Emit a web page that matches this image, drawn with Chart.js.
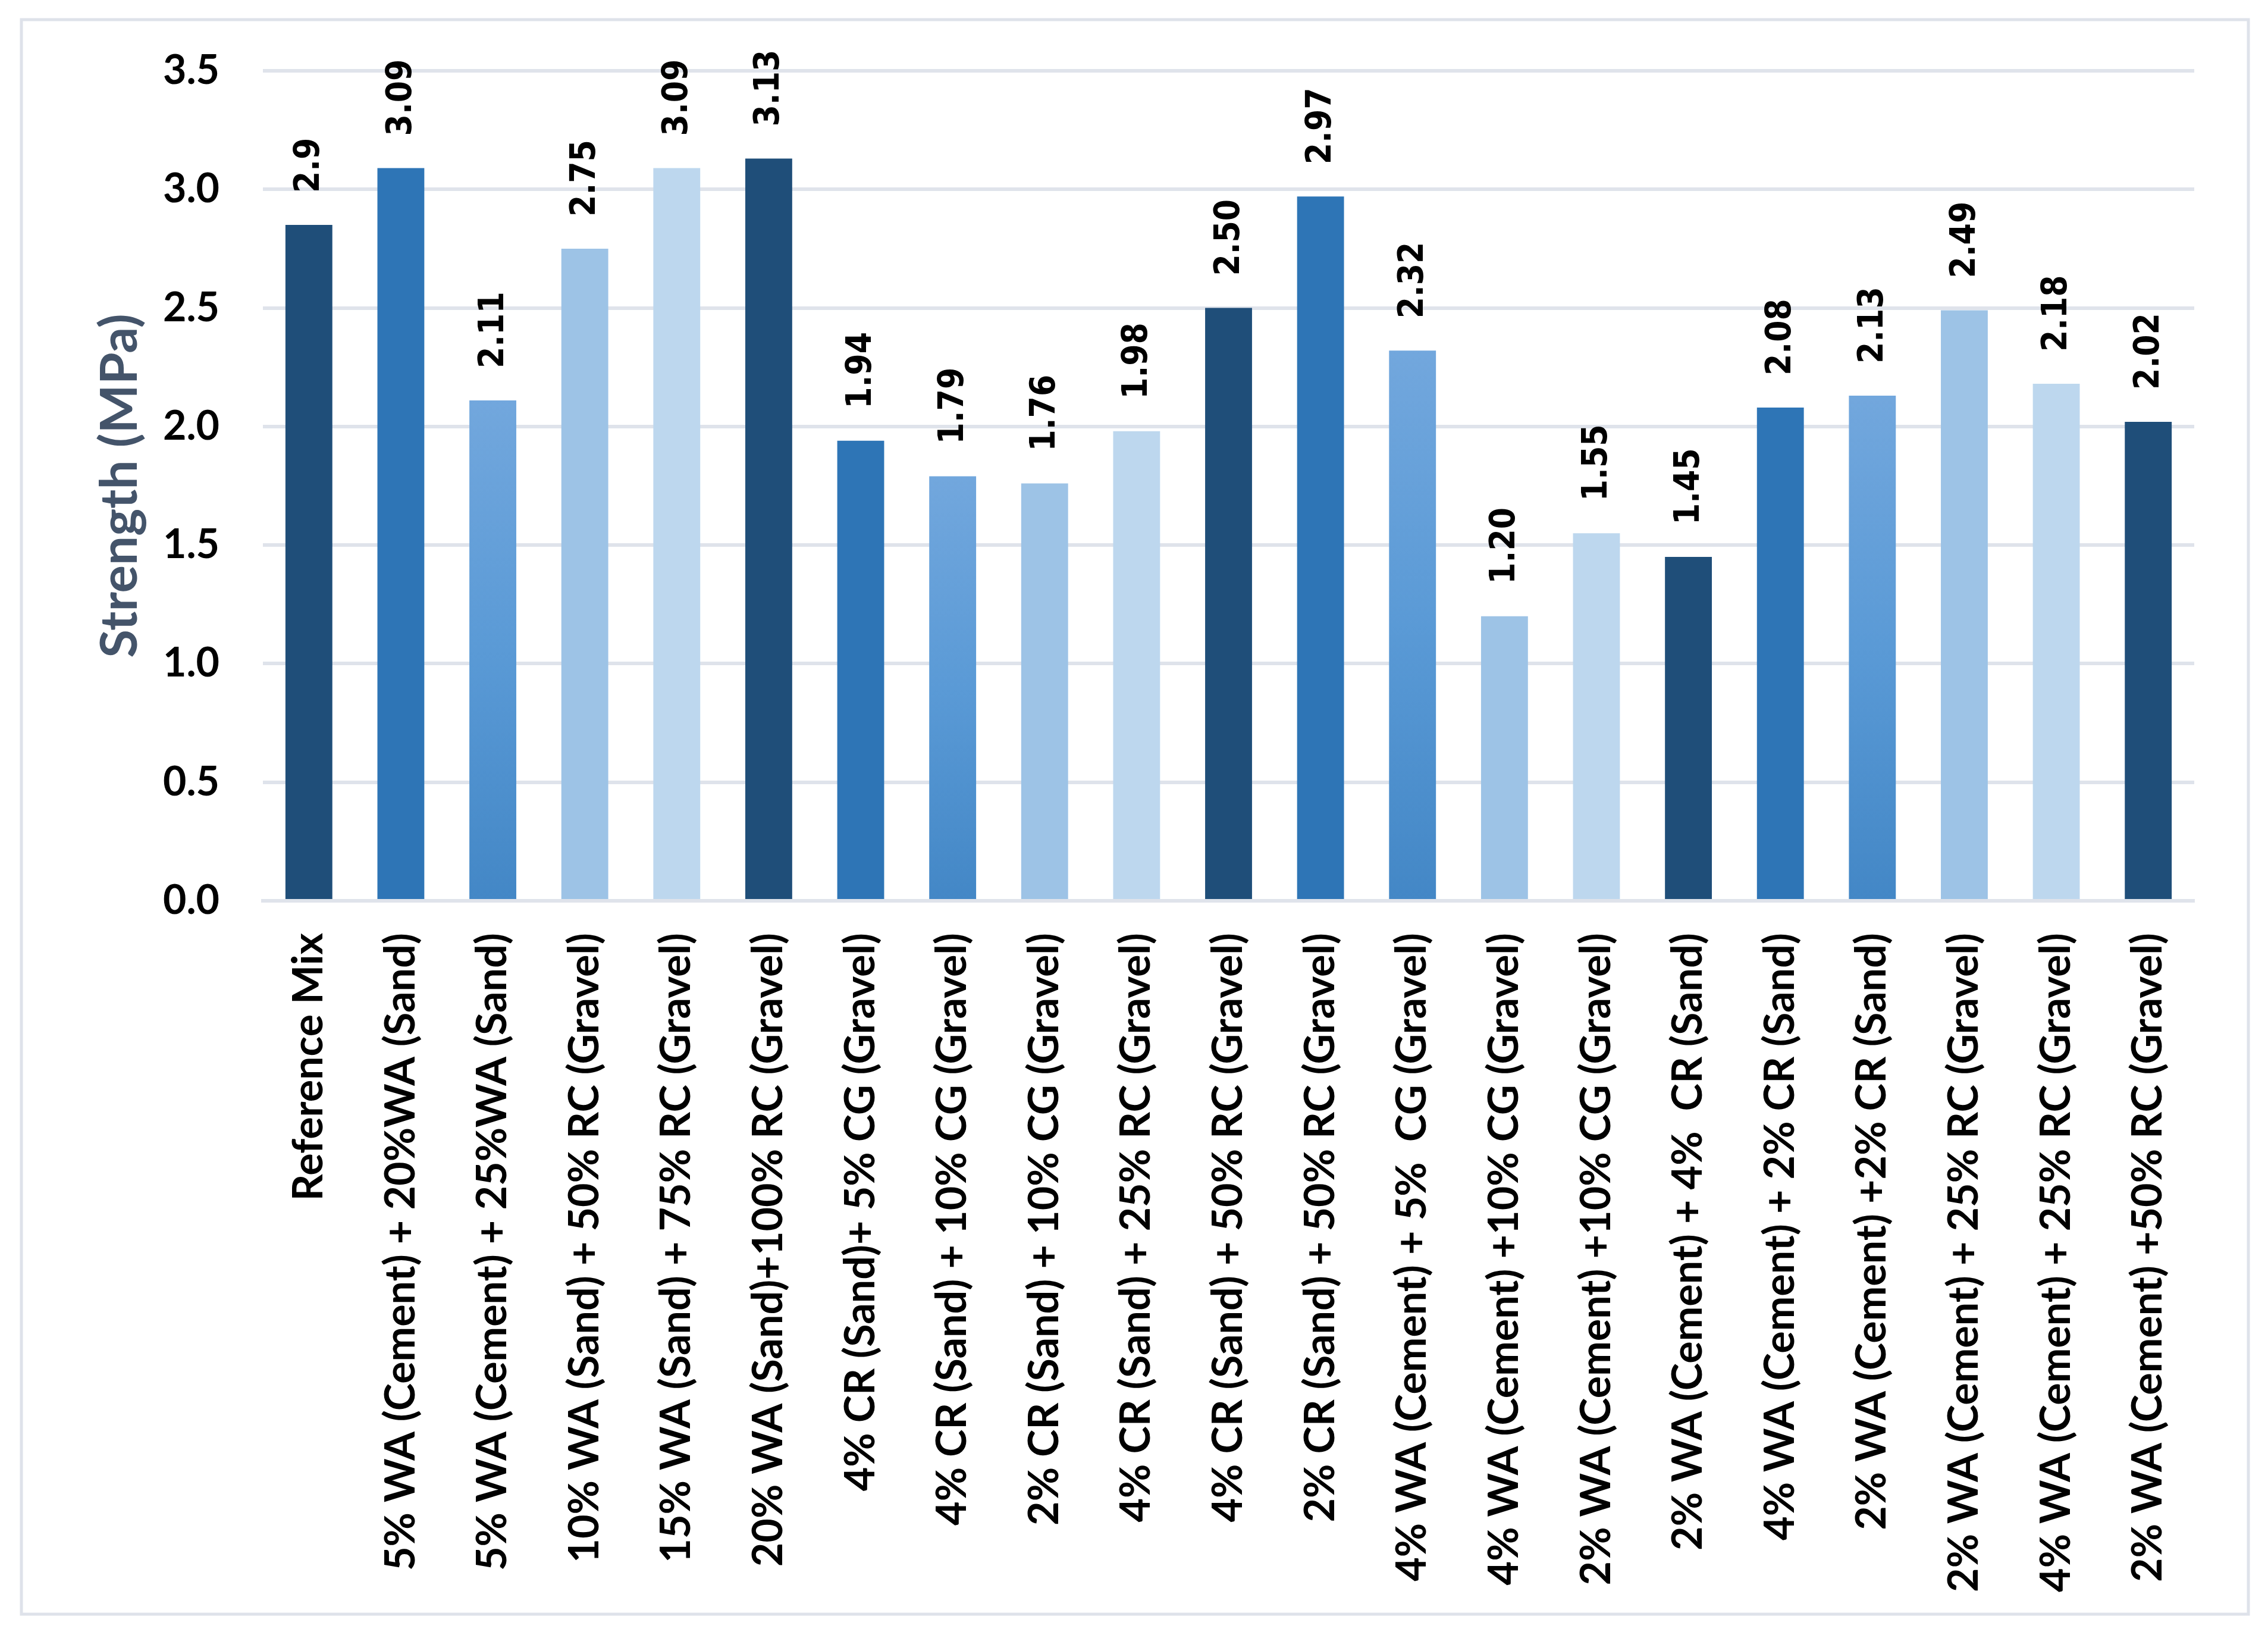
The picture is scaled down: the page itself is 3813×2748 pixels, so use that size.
<!DOCTYPE html>
<html lang="en">
<head>
    <meta charset="UTF-8">
    <title>Strength (MPa)</title>
    <script src="https://cdn.jsdelivr.net/npm/chart.js@4.4.3/dist/chart.umd.min.js"></script>
    <style>
        body { margin: 0; background: #ffffff; }
        canvas { display: block; }
    </style>
</head>
<body>
    <canvas id="strengthChart" width="3813" height="2748"></canvas>

    <script>
        // --- data ---
        const mixLabels = [
            'Reference Mix',
            '5% WA (Cement) + 20%WA (Sand)',
            '5% WA (Cement) + 25%WA (Sand)',
            '10% WA (Sand) + 50% RC (Gravel)',
            '15% WA (Sand) + 75% RC (Gravel)',
            '20% WA (Sand)+100% RC (Gravel)',
            '4% CR (Sand)+ 5% CG (Gravel)',
            '4% CR (Sand) + 10% CG (Gravel)',
            '2% CR (Sand) + 10% CG (Gravel)',
            '4% CR (Sand) + 25% RC (Gravel)',
            '4% CR (Sand) + 50% RC (Gravel)',
            '2% CR (Sand) + 50% RC (Gravel)',
            '4% WA (Cement) + 5%  CG (Gravel)',
            '4% WA (Cement) +10% CG (Gravel)',
            '2% WA (Cement) +10% CG (Gravel)',
            '2% WA (Cement) + 4%  CR (Sand)',
            '4% WA (Cement) + 2% CR (Sand)',
            '2% WA (Cement) +2% CR (Sand)',
            '2% WA (Cement) + 25% RC (Gravel)',
            '4% WA (Cement) + 25% RC (Gravel)',
            '2% WA (Cement) +50% RC (Gravel)'
        ];
        const strengthValues = [2.85, 3.09, 2.11, 2.75, 3.09, 3.13, 1.94, 1.79, 1.76, 1.98, 2.50,
                                2.97, 2.32, 1.20, 1.55, 1.45, 2.08, 2.13, 2.49, 2.18, 2.02];
        const valueLabels = ['2.9', '3.09', '2.11', '2.75', '3.09', '3.13', '1.94', '1.79', '1.76', '1.98', '2.50',
                             '2.97', '2.32', '1.20', '1.55', '1.45', '2.08', '2.13', '2.49', '2.18', '2.02'];
        const yTicks = [0, 0.5, 1.0, 1.5, 2.0, 2.5, 3.0, 3.5];

        // colour cycle of the bars (third one is a gradient)
        const palette = ['#1F4E79', '#2E75B6', 'gradient', '#9DC3E6', '#BDD7EE'];

        function barColor(context) {
            const c = palette[context.dataIndex % palette.length];
            if (c !== 'gradient') return c;
            const chart = context.chart;
            const y = chart.scales.y;
            if (!chart.chartArea || !y) return '#5B9BD5';
            const top = y.getPixelForValue(context.raw);
            const bottom = y.getPixelForValue(0);
            const g = chart.ctx.createLinearGradient(0, top, 0, bottom);
            g.addColorStop(0, '#72A7DD');
            g.addColorStop(0.5, '#5A9AD6');
            g.addColorStop(1, '#4387C6');
            return g;
        }

        // value labels rotated above each bar
        const valueLabelPlugin = {
            id: 'valueLabels',
            afterDatasetsDraw(chart) {
                const ctx = chart.ctx;
                const meta = chart.getDatasetMeta(0);
                ctx.save();
                ctx.fillStyle = '#000000';
                ctx.font = 'bold 58px "DejaVu Sans Condensed", "DejaVu Sans", sans-serif';
                ctx.textAlign = 'left';
                ctx.textBaseline = 'middle';
                meta.data.forEach((bar, i) => {
                    ctx.save();
                    ctx.translate(bar.x + 2, bar.y - 54);
                    ctx.rotate(-Math.PI / 2);
                    ctx.fillText(valueLabels[i], 0, 0);
                    ctx.restore();
                });
                ctx.restore();
            }
        };

        // light frame round the whole picture
        const framePlugin = {
            id: 'frame',
            beforeDraw(chart) {
                const ctx = chart.ctx;
                ctx.save();
                ctx.fillStyle = '#ffffff';
                ctx.fillRect(0, 0, chart.width, chart.height);
                ctx.strokeStyle = '#DEE2EA';
                ctx.lineWidth = 5;
                ctx.strokeRect(36, 33, 3744, 2680);
                ctx.restore();
            }
        };

        const ctx = document.getElementById('strengthChart').getContext('2d');
        new Chart(ctx, {
            type: 'bar',
            data: {
                labels: mixLabels,
                datasets: [{
                    label: 'Strength (MPa)',
                    data: strengthValues,
                    backgroundColor: barColor,
                    borderWidth: 0,
                    barPercentage: 0.51,
                    categoryPercentage: 1.0
                }]
            },
            options: {
                responsive: false,
                animation: false,
                layout: {
                    padding: { left: 0, right: 124, top: 119, bottom: 0 }
                },
                scales: {
                    x: {
                        grid: { display: false, drawTicks: false },
                        border: { display: true, color: '#DFE3EB', width: 6 },
                        ticks: {
                            autoSkip: false,
                            minRotation: 90,
                            maxRotation: 90,
                            padding: 54,
                            color: '#000000',
                            font: { family: 'Lato', weight: 'bold', size: 70 }
                        },
                        afterFit(scale) { scale.height = 2748 - 1514; }
                    },
                    y: {
                        min: 0,
                        max: 3.5,
                        afterBuildTicks(scale) {
                            scale.ticks = yTicks.map(v => ({ value: v }));
                        },
                        grid: { color: '#DFE3EB', lineWidth: 6, drawTicks: false },
                        border: { display: false },
                        ticks: {
                            padding: 73,
                            color: '#000000',
                            font: { family: 'Lato', weight: 'bold', size: 68 },
                            callback: v => v.toFixed(1)
                        },
                        title: {
                            display: true,
                            text: 'Strength (MPa)',
                            color: '#44546A',
                            font: { family: 'Lato', weight: 'bold', size: 87 },
                            padding: { top: 150, bottom: 0 }
                        },
                        afterFit(scale) { scale.width = 442; }
                    }
                },
                plugins: {
                    legend: { display: false },
                    tooltip: { enabled: false }
                }
            },
            plugins: [framePlugin, valueLabelPlugin]
        });
    </script>
</body>
</html>
